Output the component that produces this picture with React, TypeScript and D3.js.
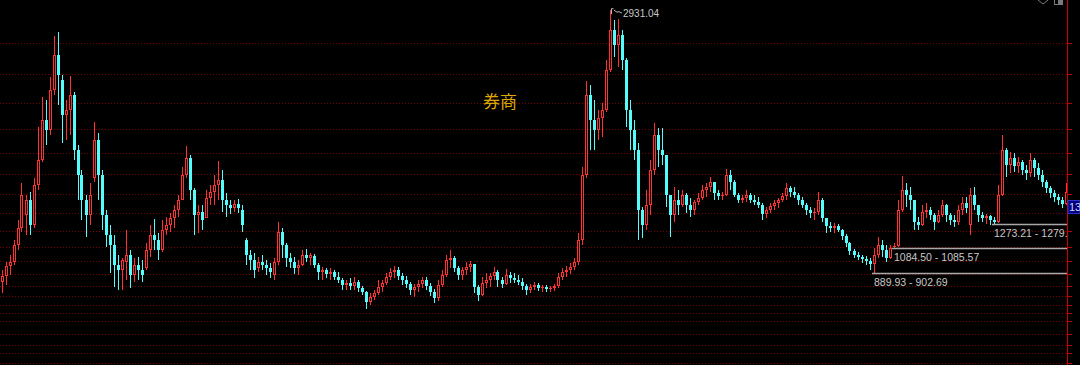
import React from 'react';
import * as d3 from 'd3';

// ---- data (price values) ----
const opens = [
  821,868,945,976,1109,1241,1342,1458,1264,1574,
  1768,2079,2001,2312,2583,2389,2118,2156,2273,1846,
  1652,1458,1342,1629,1924,1652,1342,1186,1109,954,
  915,976,1031,876,954,915,930,1070,1186,1148,
  1070,1225,1264,1318,1380,1458,1652,1784,1536,1342,
  1364,1318,1474,1520,1574,1613,1458,1419,1396,1427,
  1380,1148,1031,992,930,976,954,930,876,976,
  1209,1109,1008,976,930,954,1031,1008,1023,954,
  899,915,884,899,861,837,798,814,790,821,
  775,744,666,706,737,783,814,861,899,915,
  868,837,806,760,783,806,837,790,744,698,
  798,876,992,1008,930,876,915,938,961,783,
  721,814,837,868,899,837,806,876,853,837,
  821,790,760,783,798,775,783,767,775,790,
  861,899,915,938,976,1148,1652,2273,2079,2001,
  2094,2156,2467,2777,2661,2738,2544,2156,2001,1846,
  1380,1264,1419,1691,1962,1846,1807,1497,1342,1458,
  1419,1497,1419,1380,1442,1474,1536,1559,1597,1513,
  1489,1497,1652,1597,1497,1458,1474,1497,1458,1442,
  1419,1349,1380,1411,1435,1458,1489,1551,1520,1497,
  1458,1419,1380,1357,1364,1458,1318,1256,1241,1256,
  1225,1178,1125,1062,1031,1016,1000,984,961,1031,
  1109,1070,1008,1095,1102,1380,1536,1497,1458,1287,
  1264,1364,1380,1342,1287,1342,1419,1342,1303,1287,
  1380,1435,1264,1497,1419,1342,1318,1334,1303,1287,
  1497,1846,1730,1784,1722,1752,1691,1668,1768,1706,
  1652,1597,1551,1513,1481,1458,1427,
];
const highs = [
  915,976,1031,1148,1303,1590,1497,1520,1629,2025,
  2258,2234,2413,2730,2761,2428,2234,2420,2296,1885,
  1691,1497,1590,2063,1978,1691,1380,1264,1186,1031,
  1008,1225,1070,1008,1016,992,1125,1264,1310,1202,
  1303,1326,1357,1419,1497,1714,1877,1807,1551,1419,
  1419,1536,1574,1652,1760,1691,1513,1458,1458,1466,
  1419,1163,1070,1047,1016,1031,992,969,1008,1287,
  1241,1125,1047,1016,992,1070,1078,1047,1039,969,
  938,930,930,915,899,853,837,853,861,837,
  790,752,737,760,837,837,892,930,945,938,
  892,868,821,806,837,861,861,814,767,837,
  915,1031,1070,1023,945,938,976,984,961,798,
  861,892,892,938,915,861,922,899,892,876,
  853,806,806,821,814,798,798,790,806,892,
  930,945,969,1008,1202,1714,2381,2350,2234,2156,
  2211,2544,2931.04,2855,2862,2777,2560,2234,2079,1901,
  1403,1536,1768,2056,2017,2017,1807,1497,1559,1536,
  1536,1513,1474,1458,1513,1574,1590,1636,1597,1536,
  1520,1699,1691,1613,1513,1497,1536,1513,1497,1481,
  1435,1403,1435,1458,1474,1513,1590,1567,1559,1513,
  1481,1435,1403,1396,1520,1474,1318,1287,1280,1272,
  1233,1194,1132,1078,1054,1031,1023,1008,1086,1171,
  1148,1109,1109,1125,1458,1644,1590,1559,1458,1326,
  1419,1435,1403,1357,1380,1458,1427,1357,1342,1419,
  1481,1481,1551,1559,1419,1364,1349,1342,1326,1574,
  1962,1862,1830,1823,1792,1768,1730,1823,1784,1745,
  1691,1613,1567,1536,1505,1481,1590,
];
const lows = [
  737,798,876,953,1070,1209,1186,1186,1241,1536,
  1752,1885,1962,2273,2195,1901,1924,1962,1768,1458,
  1303,1171,1264,1597,1458,1225,1094,892,783,760,
  760,837,775,821,837,821,915,1016,1070,992,
  1054,1186,1209,1241,1326,1458,1629,1458,1186,1202,
  1225,1318,1419,1419,1458,1364,1326,1349,1364,1357,
  1209,954,915,853,899,915,876,853,837,954,
  1008,938,930,884,876,945,976,954,930,837,
  837,853,837,837,814,760,760,760,760,744,
  721,612,643,682,721,744,798,837,853,837,
  798,775,721,706,744,775,760,713,659,674,
  783,861,930,899,837,837,876,899,737,674,
  713,775,783,837,783,775,798,814,814,798,
  760,721,737,760,752,744,744,744,752,775,
  837,861,884,915,954,1109,1629,1846,1846,1924,
  1947,2140,2451,2568,2490,2467,2025,1846,1768,1148,
  1163,1225,1342,1652,1714,1730,1403,1171,1287,1342,
  1403,1357,1326,1342,1419,1458,1481,1520,1458,1458,
  1458,1489,1536,1481,1435,1435,1442,1435,1419,1396,
  1303,1318,1357,1380,1396,1442,1458,1481,1474,1419,
  1396,1342,1318,1303,1342,1287,1202,1209,1202,1209,
  1148,1094,1031,1008,992,969,954,915,889.93,1008,
  1016,976,1000,1084.5,1090,1364,1403,1380,1225,1225,
  1256,1318,1303,1225,1280,1326,1287,1264,1249,1264,
  1342,1357,1186,1380,1287,1287,1272,1264,1273.21,1280,
  1490,1636,1668,1675,1668,1652,1613,1636,1636,1613,
  1559,1513,1474,1442,1419,1396,1419,
];
const closes = [
  868,945,976,1109,1241,1497,1458,1264,1574,1768,
  2079,2001,2312,2583,2428,2118,2156,2273,1846,1652,
  1458,1342,1497,1924,1652,1342,1186,1109,954,915,
  992,1031,876,954,915,876,1070,1186,1148,1070,
  1225,1264,1318,1380,1458,1652,1784,1536,1342,1364,
  1303,1474,1520,1574,1613,1458,1419,1396,1427,1396,
  1264,1031,992,915,976,954,930,899,976,1209,
  1109,1008,976,930,954,1031,1008,1031,954,899,
  915,884,899,861,837,798,814,790,821,775,
  744,666,706,737,783,814,861,899,915,868,
  837,806,760,783,806,837,790,744,698,798,
  876,992,1008,930,876,915,938,961,783,721,
  814,837,868,899,837,806,876,853,837,821,
  790,760,783,798,775,783,767,775,790,861,
  899,915,938,976,1148,1652,2273,2079,2001,2094,
  2156,2467,2777,2661,2738,2544,2156,2001,1846,1380,
  1264,1419,1691,1962,1846,1807,1497,1342,1458,1419,
  1497,1419,1380,1442,1474,1536,1559,1597,1513,1489,
  1497,1652,1597,1497,1458,1474,1497,1458,1442,1419,
  1349,1380,1411,1435,1458,1489,1551,1520,1497,1458,
  1419,1380,1357,1364,1458,1318,1256,1241,1256,1225,
  1178,1125,1062,1031,1016,1000,984,961,1031,1109,
  1070,1008,1086,1102,1380,1536,1497,1458,1287,1264,
  1364,1380,1342,1287,1342,1419,1342,1303,1287,1380,
  1435,1396,1497,1419,1342,1318,1334,1303,1287,1497,
  1846,1730,1784,1722,1752,1691,1668,1768,1706,1652,
  1597,1551,1513,1481,1458,1427,1520,
];

const gridValues = [2676, 2436, 2211, 2009, 1823, 1660, 1505, 1357, 1218, 1094, 985, 884, 791, 713, 644, 581, 519, 419, 333, 271, 194];

const sectorName = '券商';
const peakIndex = 152;
const peakLabel = '2931.04';
const rangeValues = [889.93, 1084.5, 1273.21];
const rangeLabels = ['889.93 - 902.69', '1084.50 - 1085.57', '1273.21 - 1279.'];
const rangeStartIndex = [218, 223, 248];
const priceTag = '13';

const W = 1080;
const H = 365;
const AXIS_X = 1067;
const CYAN = '#54fcfc';
const RED = '#ff3232';

export default function App() {
  const n = closes.length;
  const x = d3.scaleLinear().domain([0, n]).range([0, AXIS_X + 1]);
  const y = d3.scaleLinear().domain([178, 3010]).range([H, 0]);
  const cx = (i: number) => Math.floor(x(i + 0.5));

  return (
    <svg
      width={W}
      height={H}
      style={{ position: 'fixed', left: 0, top: 0, background: '#000', display: 'block' }}
    >
      <defs>
        <clipPath id="plot">
          <rect x={0} y={0} width={AXIS_X} height={H} />
        </clipPath>
      </defs>
      <rect x={0} y={0} width={W} height={H} fill="#000" />
      {/* grid lines */}
      {gridValues.map((v, k) => {
        const yy = Math.round(y(v)) + 0.5;
        return (
          <g key={'g' + k}>
            <line x1={0} x2={AXIS_X} y1={yy} y2={yy} stroke="#7a0000" strokeWidth={1} strokeDasharray="1 2" />
            <line x1={AXIS_X} x2={AXIS_X + 5} y1={yy} y2={yy} stroke="#c00000" strokeWidth={1} />
          </g>
        );
      })}
      {/* candles */}
      <g clipPath="url(#plot)" shapeRendering="crispEdges">
        {closes.map((c, i) => {
          const o = opens[i];
          const up = c > o;
          const col = up ? RED : CYAN;
          const xc = cx(i);
          const yTop = Math.round(y(Math.max(o, c)));
          const yBot = Math.round(y(Math.min(o, c)));
          const hgt = Math.max(1, yBot - yTop);
          return (
            <g key={i}>
              <line x1={xc + 0.5} x2={xc + 0.5} y1={y(highs[i])} y2={y(lows[i])} stroke={col} strokeWidth={1} />
              {up && hgt > 2 ? (
                <rect x={xc - 0.5} y={yTop + 0.5} width={2} height={hgt - 1} fill="#000" stroke={col} strokeWidth={1} />
              ) : (
                <rect x={xc - 1} y={yTop} width={3} height={hgt} fill={col} />
              )}
            </g>
          );
        })}
      </g>
      {/* range lines */}
      {rangeValues.map((v, k) => {
        const xs = cx(rangeStartIndex[k]) - 2;
        const yy = Math.round(y(v)) + 0.5;
        return (
          <g key={'r' + k}>
            <line x1={xs} x2={AXIS_X} y1={yy} y2={yy} stroke="#a8a8a8" strokeWidth={1.3} />
            <text
              x={xs + 2}
              y={y(v) + 12.7}
              fill="#c8c8c8"
              fontSize={10.5}
              fontFamily="'Liberation Sans', Arial, sans-serif"
            >
              {rangeLabels[k]}
            </text>
          </g>
        );
      })}
      {/* peak marker */}
      {(() => {
        const px = cx(peakIndex);
        const py = y(highs[peakIndex]);
        return (
          <g>
            <path
              d={`M${px + 1.5},${py + 4} V${py - 1.5} H${px + 3.5} M${px + 4},${py} L${px + 7},${py + 2} L${px + 9},${py + 1.5} L${px + 12},${py + 3}`}
              fill="none"
              stroke="#b8b8b8"
              strokeWidth={1}
            />
            <text x={px + 13} y={py + 7.2} fill="#c8c8c8" fontSize={10} fontFamily="'Liberation Sans', Arial, sans-serif">
              {peakLabel}
            </text>
          </g>
        );
      })()}
      {/* sector title */}
      <text x={483} y={108} fill="#e0a800" fontSize={17} fontFamily="'Noto Sans CJK SC', sans-serif">
        {sectorName}
      </text>
      {/* right axis */}
      <line x1={AXIS_X + 0.5} x2={AXIS_X + 0.5} y1={0} y2={H} stroke="#d00000" strokeWidth={1} />
      <rect x={AXIS_X + 1} y={200.5} width={W - AXIS_X - 1} height={13} fill="#00007a" stroke="#3030d0" strokeWidth={1} />
      <text x={AXIS_X + 2} y={211} fill="#d0d0ff" fontSize={11} fontFamily="'Liberation Sans', Arial, sans-serif">
        {priceTag}
      </text>
      {/* top-right icons (cut off) */}
      <path d="M1038,0 L1043,4 L1048,0" fill="none" stroke="#7a7a7a" strokeWidth={1} />
      <rect x={1054.5} y={-3.5} width={8} height={8} fill="none" stroke="#7a7a7a" strokeWidth={1} />
      <rect x={1058} y={0} width={4} height={4} fill="#7a7a7a" />
    </svg>
  );
}
